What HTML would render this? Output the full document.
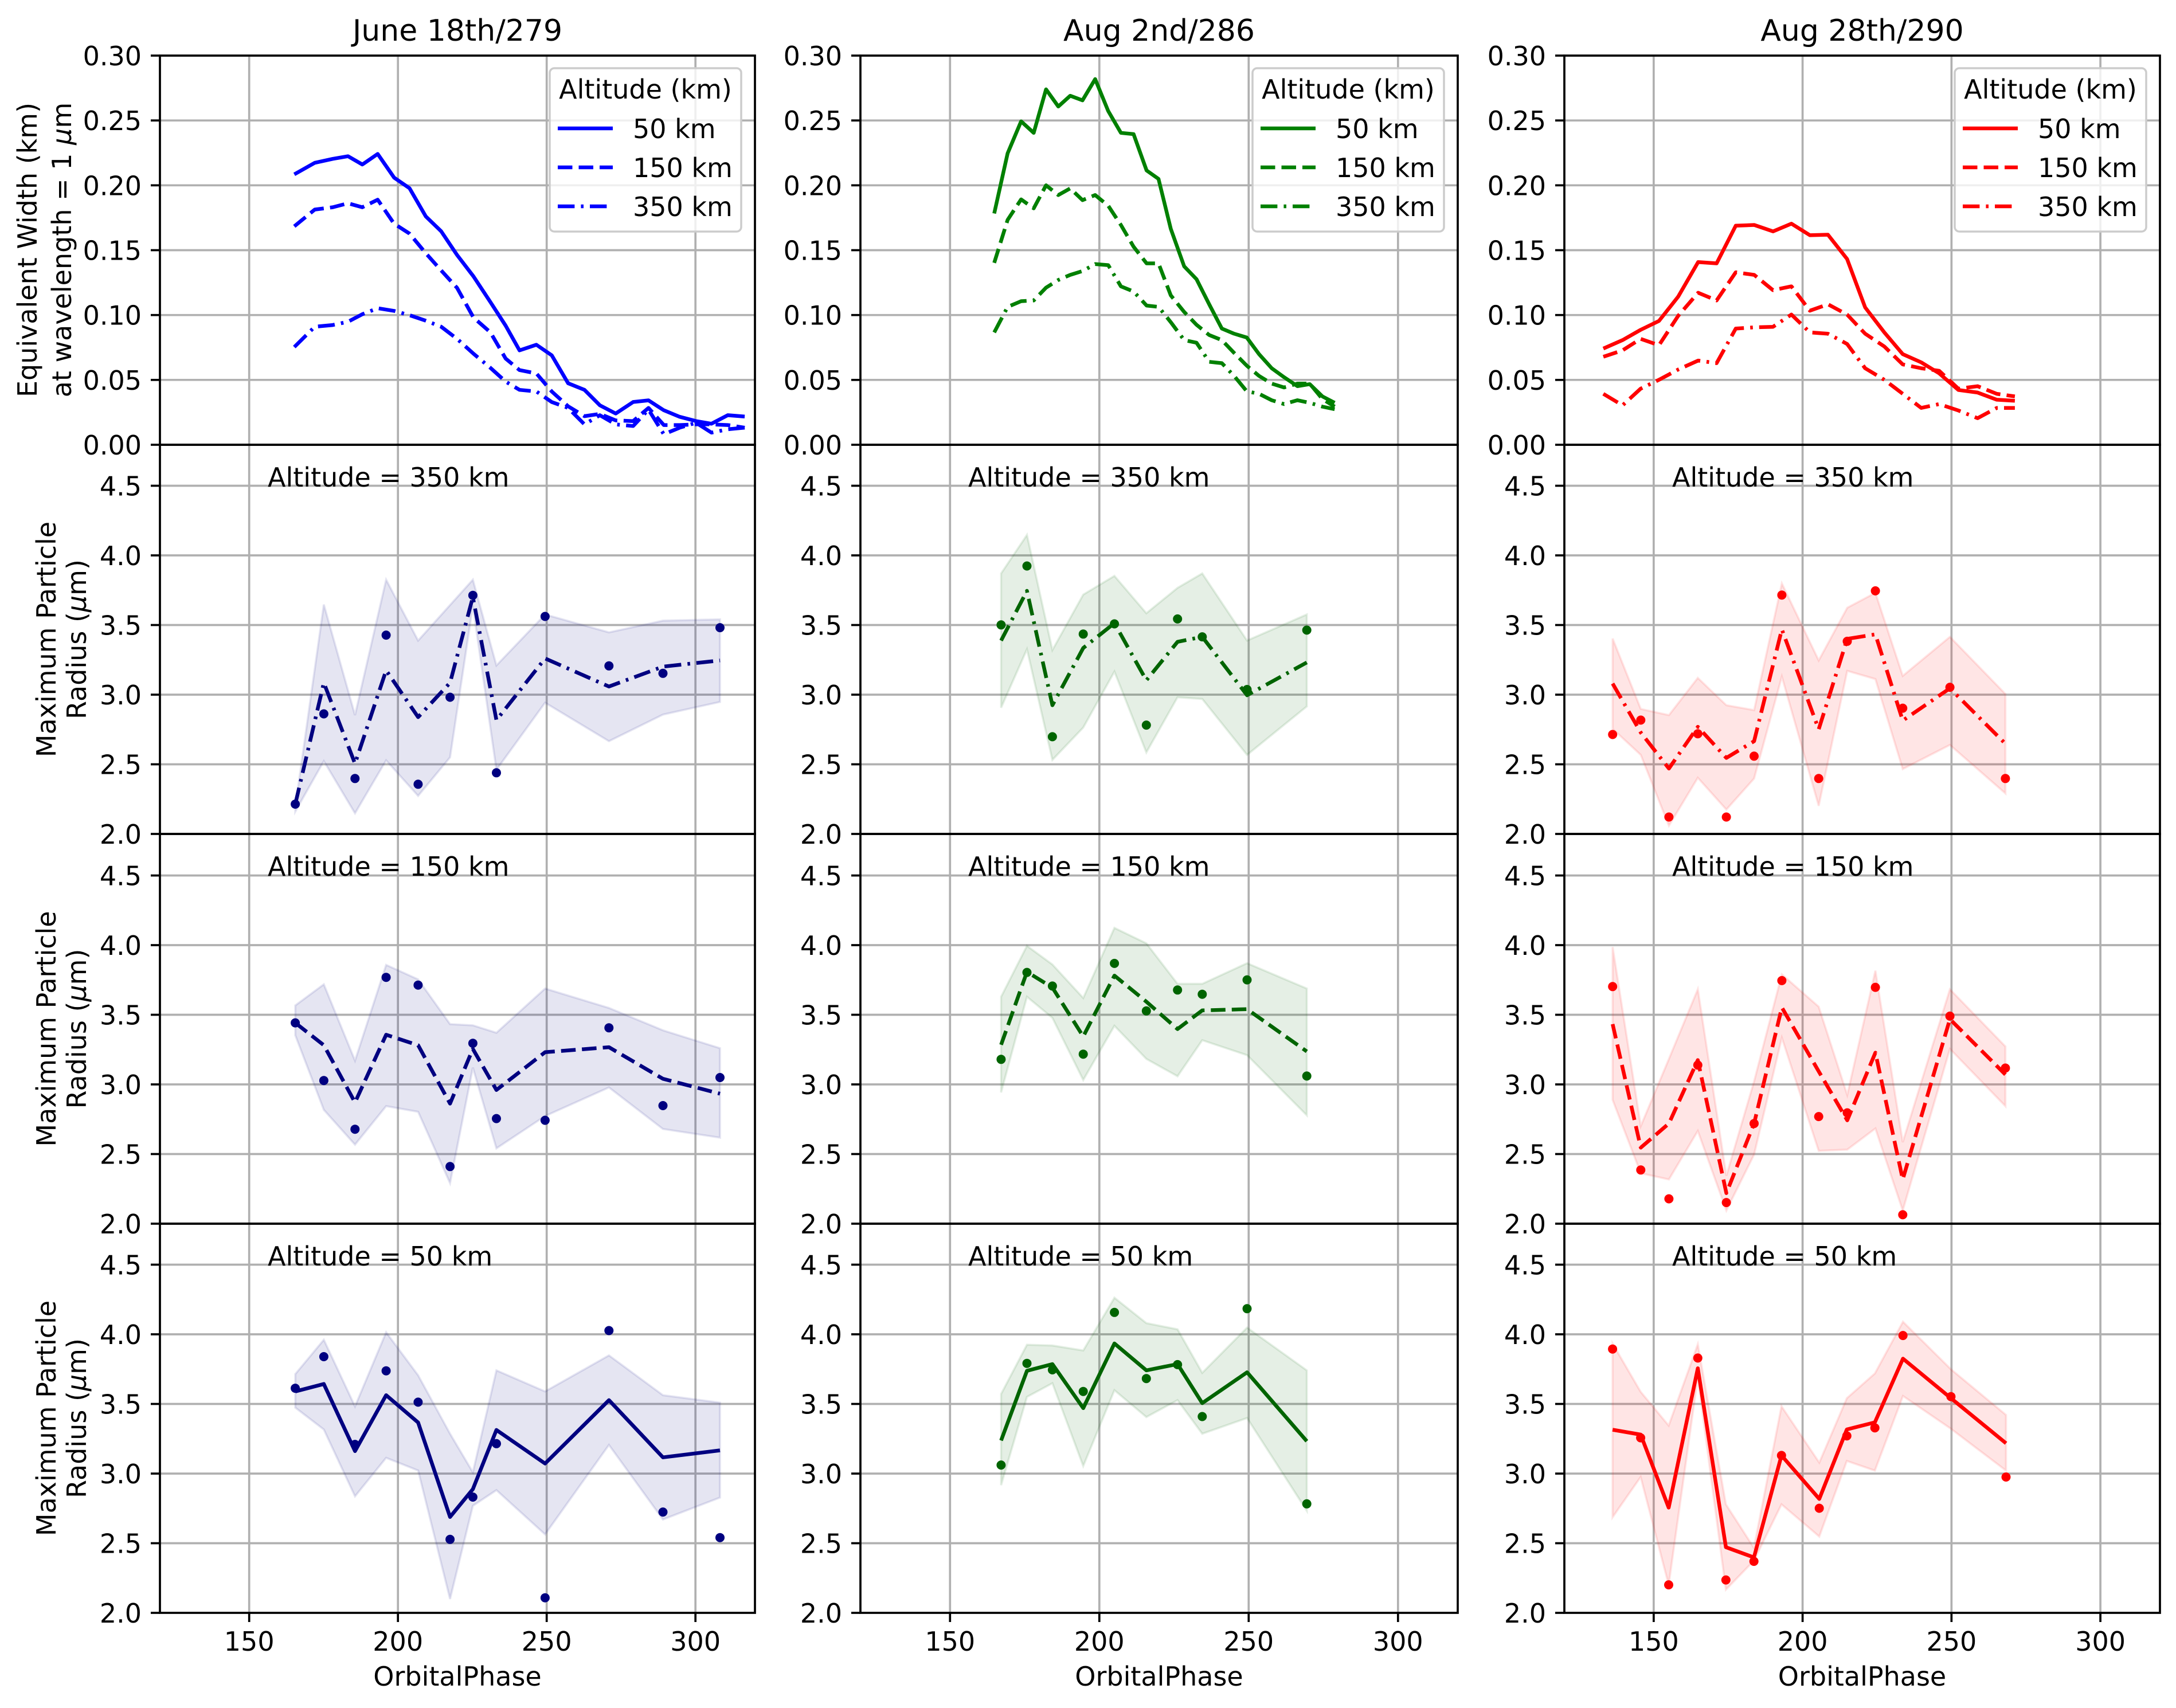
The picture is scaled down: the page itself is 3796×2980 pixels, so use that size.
<!DOCTYPE html>
<html><head><meta charset="utf-8">
<style>html,body{margin:0;padding:0;background:#fff}svg{display:block}</style>
</head><body>
<svg id="s" xmlns="http://www.w3.org/2000/svg" width="3796" height="2980" viewBox="0 0 3796 2980" font-family="DejaVu Sans, Liberation Sans, sans-serif"></svg>
<script>
const S=document.getElementById('s');let out='';
const cols=[[279,1317],[1501,2543],[2729,3768]];
const rows=[[97,776],[776,1455],[1455,2135],[2135,2814]];
const FS=46;
function Z(x,y,w,h){return {x,y,w,h};}
function mp(c,xs,ys){return xs.map((x,i)=>[c.x+x*c.w/1568,c.y+ys[i]*c.h/1568]);}
function pts(p){return p.map(q=>q[0].toFixed(1)+','+q[1].toFixed(1)).join(' ');}
const DASH={solid:'',dashed:'25.5,11',dashdot:'29.4,11,4.6,11'};
function line(p,col,st,lw){out+=`<polyline points="${pts(p)}" fill="none" stroke="${col}" stroke-width="${lw||6.5}" stroke-linejoin="round" ${DASH[st]?`stroke-dasharray="${DASH[st]}"`:''}/>`;}
for(let r=0;r<4;r++)for(let c=0;c<3;c++){
 const [l,R]=cols[c],[t,b]=rows[r];const W=R-l;
 out+=`<clipPath id="c${r}${c}"><rect x="${l}" y="${t}" width="${W}" height="${b-t}"/></clipPath>`;
 for(const d of [150,200,250,300]){const x=l+(d-120)*W/200;out+=`<line x1="${x}" y1="${t}" x2="${x}" y2="${b}" stroke="#b0b0b0" stroke-width="3.7"/>`;}
 if(r==0){for(let k=0;k<=6;k++){const v=k*0.05;const y=b-v/0.3*(b-t);
   out+=`<line x1="${l}" y1="${y}" x2="${R}" y2="${y}" stroke="#b0b0b0" stroke-width="3.7"/>`;
   out+=`<line x1="${l-16}" y1="${y}" x2="${l}" y2="${y}" stroke="#000" stroke-width="3.7"/>`;
   out+=`<text x="${l-32}" y="${y+17}" font-size="${FS}" text-anchor="end">${v.toFixed(2)}</text>`;}}
 else{for(let k=0;k<=5;k++){const v=2+k*0.5;const y=b-(v-2)*243;
   if(k>0&&k<6)out+=`<line x1="${l}" y1="${y}" x2="${R}" y2="${y}" stroke="#b0b0b0" stroke-width="3.7"/>`;
   out+=`<line x1="${l-16}" y1="${y}" x2="${l}" y2="${y}" stroke="#000" stroke-width="3.7"/>`;
   out+=`<text x="${l-32}" y="${y+17}" font-size="${FS}" text-anchor="end">${v.toFixed(1)}</text>`;}}
 if(r==3){for(const d of [150,200,250,300]){const x=l+(d-120)*W/200;
   out+=`<line x1="${x}" y1="${b}" x2="${x}" y2="${b+16}" stroke="#000" stroke-width="3.7"/>`;
   out+=`<text x="${x}" y="2880" font-size="${FS}" text-anchor="middle">${d}</text>`;}
   out+=`<text x="${(l+R)/2}" y="2941" font-size="${FS}" text-anchor="middle">OrbitalPhase</text>`;}
}
const titles=['June 18th/279','Aug 2nd/286','Aug 28th/290'];
titles.forEach((t,c)=>{out+=`<text x="${(cols[c][0]+cols[c][1])/2}" y="71" font-size="52" text-anchor="middle">${t}</text>`;});
const TOP=[
 {c:Z(0,0,1400,900),col:'#0000ff',x:[575,615,650,680,708,738,770,800,832,862,893,925,958,988,1015,1048,1078,1110,1142,1172,1203,1237,1267,1297,1328,1360,1390,1422,1455],
  s:[[530,495,483,475,500,468,540,572,658,703,775,840,918,990,1065,1048,1080,1165,1185,1232,1257,1222,1217,1247,1267,1280,1288,1262,1266],
     [688,637,630,618,630,607,680,710,770,822,875,965,1010,1090,1125,1135,1190,1235,1265,1258,1278,1280,1240,1292,1292,1290,1290,1292,1300],
     [1055,993,988,978,955,937,945,958,975,993,1030,1075,1118,1160,1185,1190,1222,1240,1290,1262,1290,1295,1245,1320,1300,1285,1315,1305,1300]]},
 {c:Z(1500,80,1050,700),col:'#008000',x:[350,385,420,453,485,517,548,580,613,647,680,713,747,778,810,845,877,910,943,975,1008,1040,1073,1105,1140,1172,1205,1237],
  s:[[655,420,295,340,170,237,195,213,130,255,340,345,487,520,715,862,912,1010,1105,1125,1140,1205,1260,1295,1330,1322,1370,1395],
     [848,680,600,635,545,583,557,603,583,625,700,785,850,850,975,1040,1090,1130,1150,1200,1250,1290,1320,1335,1320,1320,1380,1410],
     [1120,1020,998,995,945,915,895,880,853,857,940,960,1015,1020,1080,1150,1160,1235,1240,1290,1350,1360,1385,1400,1385,1395,1410,1420]]},
 {c:Z(2720,80,1050,700),col:'#ff0000',x:[115,165,212,260,310,362,410,460,508,557,605,653,700,750,797,847,895,943,990,1040,1090,1140,1187],
  s:[[1183,1150,1110,1075,980,845,850,703,700,725,695,740,738,833,1022,1120,1205,1237,1280,1345,1355,1383,1387],
     [1215,1190,1145,1170,1055,965,995,885,895,955,940,1035,1010,1050,1125,1175,1245,1260,1270,1340,1330,1360,1370],
     [1360,1405,1340,1305,1265,1230,1240,1105,1100,1098,1050,1120,1125,1165,1260,1305,1360,1415,1400,1425,1455,1415,1415]]}];
const STY=['solid','dashed','dashdot'];
TOP.forEach((T,ci)=>{out+=`<g clip-path="url(#c0${ci})">`;T.s.forEach((ys,k)=>line(mp(T.c,T.x,ys),T.col,STY[k]));out+='</g>';
 const R=cols[ci][1];const bx=R-24-334;
 out+=`<rect x="${bx}" y="119" width="334" height="285" rx="8" fill="#fff" fill-opacity="0.8" stroke="#cccccc" stroke-width="3.5"/>`;
 out+=`<text x="${bx+167}" y="172" font-size="${FS}" text-anchor="middle">Altitude (km)</text>`;
 ['50 km','150 km','350 km'].forEach((lab,k)=>{const y=224+k*68;
  out+=`<line x1="${bx+14}" y1="${y}" x2="${bx+110}" y2="${y}" stroke="${T.col}" stroke-width="6.5" ${DASH[STY[k]]?`stroke-dasharray="${DASH[STY[k]]}"`:''}/>`;
  out+=`<text x="${bx+145}" y="${y+17}" font-size="${FS}">${lab}</text>`;});
});
const C1x=[356,431,513,595,679,763,823,885,1013,1181,1323,1473];
const C2x=[370,438,505,586,668,752,834,899,1017,1174];
const C3x=[127,201,275,351,426,499,572,669,744,818,890,1014,1160];
const C3x4=[464,519,574,631,686,741,795,869,923,978,1033,1127,1235];
const P=[
 {r:1,ci:0,c:Z(279,775,1040,680),x:C1x,st:'dashdot',
  L:[1448,960,1285,910,1098,960,615,1110,862,975,895,870],U:[1460,645,1090,545,790,647,545,890,685,757,710,705],
  B:[1478,1275,1485,1272,1415,1260,650,1310,1040,1195,1088,1037],D:[1448,1085,1345,768,1368,1018,608,1322,693,892,922,738]},
 {r:2,ci:0,c:Z(279,1455,1040,680),x:C1x,st:'dashed',
  L:[760,850,1080,808,850,1085,865,1030,878,858,985,1045],U:[690,605,912,527,585,765,770,800,622,700,790,862],
  B:[810,1110,1250,1095,1118,1405,940,1265,1135,1020,1187,1222],D:[760,992,1188,577,608,1338,842,1145,1152,780,1093,980]},
 {r:3,ci:0,c:Z(279,2135,1040,680),x:C1x,st:'solid',
  L:[675,645,915,690,800,1180,1068,830,965,710,940,912],U:[605,467,735,437,610,845,1000,590,675,530,690,720],
  B:[740,828,1097,942,993,1510,1135,1072,1250,890,1190,1102],D:[662,535,888,592,718,1270,1100,885,1505,430,1160,1263]},
 {r:1,ci:1,c:Z(1501,775,1040,680),x:C2x,st:'dashdot',
  L:[790,590,1050,820,720,950,795,775,1010,878],U:[520,365,828,605,530,680,578,520,790,685],
  B:[1060,825,1270,1140,915,1240,1018,1025,1250,1055],D:[727,490,1177,764,723,1130,703,775,987,748]},
 {r:2,ci:1,c:Z(1501,1455,1040,680),x:C2x,st:'dashed',
  L:[848,555,618,815,570,675,785,710,705,875],U:[655,450,525,660,378,440,603,603,520,622],
  B:[1040,655,740,990,772,905,975,830,890,1132],D:[907,557,612,886,521,712,628,645,587,974]},
 {r:3,ci:1,c:Z(1501,2135,1040,680),x:C2x,st:'solid',
  L:[872,592,565,742,482,590,565,722,598,875],U:[685,487,490,510,298,400,425,600,418,590],
  B:[1052,697,642,975,670,778,710,845,782,1155],D:[971,562,588,675,357,623,567,776,342,1127]},
 {r:1,ci:2,c:Z(2729,775,1040,680),x:C3x,st:'dashdot',
  L:[963,1160,1305,1137,1262,1195,745,1147,783,765,1112,982,1205],U:[782,1065,1090,940,1050,1070,560,870,658,598,932,775,1005],
  B:[1145,1250,1535,1342,1470,1345,935,1455,912,945,1307,1210,1405],D:[1168,1110,1500,1165,1500,1255,607,1345,793,590,1062,978,1345]},
 {r:2,ci:2,c:Z(2729,1455,1040,680),x:C3x,st:'dashed',
  L:[765,1262,1165,910,1445,1165,698,955,1152,880,1390,745,968],U:[455,1175,905,625,1375,995,565,695,1050,550,1240,625,855],
  B:[1070,1365,1390,1195,1515,1290,820,1275,1270,1185,1515,865,1095],D:[614,1352,1468,930,1483,1165,590,1137,1122,617,1532,733,942]},
 {r:3,ci:2,c:Z(2400,2100,1396,880),x:C3x4,st:'solid',
  L:[703,718,945,512,1068,1100,783,918,702,680,482,605,745],U:[435,585,690,437,935,1070,630,805,605,528,367,515,657],
  B:[975,850,1185,540,1200,1110,935,1035,800,830,598,700,830],D:[452,728,1185,480,1170,1112,783,947,722,697,410,600,850]}];
const LC=['#000080','#006400','#ff0000'];
P.forEach(p=>{const col=LC[p.ci];
 const up=mp(p.c,p.x,p.U),lo=mp(p.c,p.x,p.B).reverse();
 out+=`<polygon points="${pts(up.concat(lo))}" fill="${col}" fill-opacity="0.1" stroke="${col}" stroke-opacity="0.1" stroke-width="3.7"/>`;
 line(mp(p.c,p.x,p.L),col,p.st);
 mp(p.c,p.x,p.D).forEach(q=>{out+=`<circle cx="${q[0].toFixed(1)}" cy="${q[1].toFixed(1)}" r="8" fill="${col}"/>`;});
});
const alts=['350','150','50'];
for(let r=1;r<4;r++)for(let c=0;c<3;c++){out+=`<text x="${cols[c][0]+188}" y="${rows[r][0]+73}" font-size="${FS}">Altitude = ${alts[r-1]} km</text>`;}
for(let r=0;r<4;r++)for(let c=0;c<3;c++){const [l,R]=cols[c],[t,b]=rows[r];
 out+=`<rect x="${l}" y="${t}" width="${R-l}" height="${b-t}" fill="none" stroke="#000" stroke-width="3.7"/>`;}
out+=`<text transform="translate(64,436) rotate(-90)" font-size="${FS}" text-anchor="middle">Equivalent Width (km)</text>`;
out+=`<text transform="translate(124,436) rotate(-90)" font-size="${FS}" text-anchor="middle">at wavelength = 1 <tspan font-style="italic">μ</tspan>m</text>`;
for(let r=1;r<4;r++){const cy=(rows[r][0]+rows[r][1])/2;
 out+=`<text transform="translate(97,${cy}) rotate(-90)" font-size="${FS}" text-anchor="middle">Maximum Particle</text>`;
 out+=`<text transform="translate(150,${cy}) rotate(-90)" font-size="${FS}" text-anchor="middle">Radius (<tspan font-style="italic">μ</tspan>m)</text>`;}
S.innerHTML=out;
</script>
</body></html>
